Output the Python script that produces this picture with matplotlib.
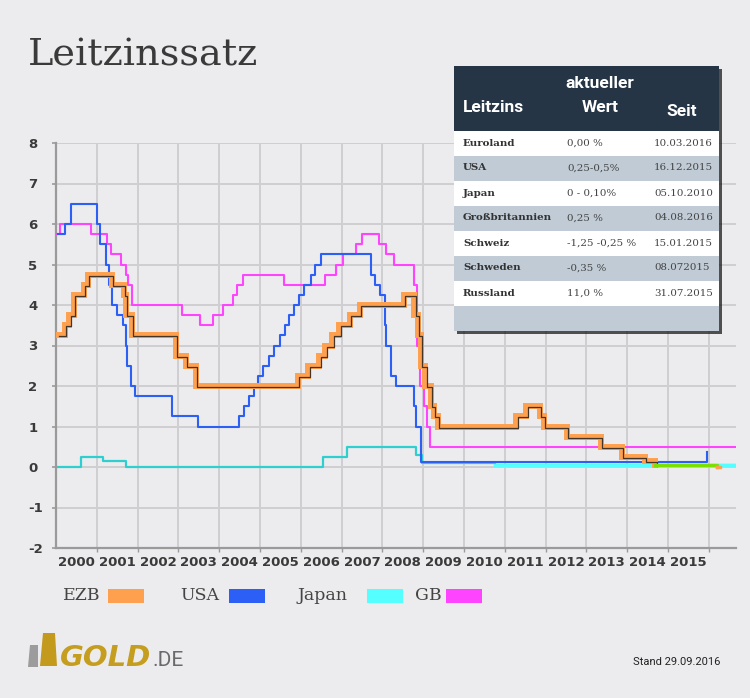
import matplotlib
matplotlib.use("Agg")
import matplotlib.pyplot as plt
import matplotlib.ticker as mticker
import matplotlib.transforms as mtransforms
from matplotlib.patches import Rectangle, Polygon
import numpy as np

# ── Daten (Leitzinsen, Stufenfunktionen) ─────────────────────────
ezb_dates = ["2000-01-20", "2000-03-17", "2000-04-28", "2000-06-09", "2000-09-06",
             "2000-10-11", "2001-05-11", "2001-08-31", "2001-09-18", "2001-11-09",
             "2002-12-06", "2003-03-07", "2003-06-06", "2005-12-06", "2006-03-08",
             "2006-06-15", "2006-08-09", "2006-10-11", "2006-12-13", "2007-03-14",
             "2007-06-13", "2008-07-09", "2008-10-15", "2008-11-12", "2008-12-10",
             "2009-01-21", "2009-03-11", "2009-04-08", "2009-05-13", "2011-04-13",
             "2011-07-13", "2011-11-09", "2011-12-14", "2012-07-11", "2013-05-08",
             "2013-11-13", "2014-06-11", "2014-09-10", "2016-03-16", "2016-04-08"]
ezb_rates = [3.25, 3.5, 3.75, 4.25, 4.5,
             4.75, 4.5, 4.25, 3.75, 3.25,
             2.75, 2.5, 2.0, 2.25, 2.5,
             2.75, 3.0, 3.25, 3.5, 3.75,
             4.0, 4.25, 3.75, 3.25, 2.5,
             2.0, 1.5, 1.25, 1.0, 1.25,
             1.5, 1.25, 1.0, 0.75, 0.5,
             0.25, 0.15, 0.05, 0.0, 0.0]
ezb_green_from, ezb_green_to = "2014-09-10", "2016-03-16"

usa_dates = ["2000-01-20", "2000-03-21", "2000-05-16", "2001-01-03", "2001-01-31",
             "2001-03-20", "2001-04-18", "2001-05-15", "2001-06-27", "2001-08-21",
             "2001-09-17", "2001-10-02", "2001-11-06", "2001-12-11", "2002-11-06",
             "2003-06-25", "2004-06-30", "2004-08-10", "2004-09-21", "2004-11-10",
             "2004-12-14", "2005-02-02", "2005-03-22", "2005-05-03", "2005-06-30",
             "2005-08-09", "2005-09-20", "2005-11-01", "2005-12-13", "2006-01-31",
             "2006-03-28", "2006-05-10", "2006-06-29", "2007-09-18", "2007-10-31",
             "2007-12-11", "2008-01-22", "2008-01-30", "2008-03-18", "2008-04-30",
             "2008-10-08", "2008-10-29", "2008-12-16", "2015-12-16", "2015-12-20"]
usa_rates = [5.75, 6.0, 6.5, 6.0, 5.5,
             5.0, 4.5, 4.0, 3.75, 3.5,
             3.0, 2.5, 2.0, 1.75, 1.25,
             1.0, 1.25, 1.5, 1.75, 2.0,
             2.25, 2.5, 2.75, 3.0, 3.25,
             3.5, 3.75, 4.0, 4.25, 4.5,
             4.75, 5.0, 5.25, 4.75, 4.5,
             4.25, 3.5, 3.0, 2.25, 2.0,
             1.5, 1.0, 0.125, 0.375, 0.375]

japan_dates = ["2000-01-01", "2000-08-11", "2001-02-28", "2001-09-19", "2006-07-14",
               "2007-02-21", "2008-10-31", "2008-12-19", "2010-10-05", "2016-09-01"]
japan_rates = [0.0, 0.25, 0.15, 0.0, 0.25,
               0.5, 0.3, 0.1, 0.05, 0.05]

gb_dates = ["2000-01-13", "2000-02-10", "2000-11-10", "2001-04-05", "2001-05-10",
            "2001-08-02", "2001-09-18", "2001-10-04", "2001-11-08", "2003-02-06",
            "2003-07-10", "2003-11-06", "2004-02-05", "2004-05-06", "2004-06-10",
            "2004-08-05", "2005-08-04", "2006-08-03", "2006-11-09", "2007-01-11",
            "2007-05-10", "2007-07-05", "2007-12-06", "2008-02-07", "2008-04-10",
            "2008-10-08", "2008-11-06", "2008-12-04", "2009-01-08", "2009-02-05",
            "2009-03-05", "2016-09-01"]
gb_rates = [5.75, 6.0, 5.75, 5.5, 5.25,
            5.0, 4.75, 4.5, 4.0, 3.75,
            3.5, 3.75, 4.0, 4.25, 4.5,
            4.75, 4.5, 4.75, 5.0, 5.25,
            5.5, 5.75, 5.5, 5.25, 5.0,
            4.5, 3.0, 2.0, 1.5, 1.0,
            0.5, 0.5]

year_labels = [str(y) for y in range(2000, 2016)]
y_ticks = list(range(-2, 9))

legend_labels = ["EZB", "USA", "Japan", "GB"]

tbl_header = ["Leitzins", "aktueller\nWert", "Seit"]
tbl_names = ["Euroland", "USA", "Japan", "Großbritannien", "Schweiz", "Schweden", "Russland"]
tbl_values = ["0,00 %", "0,25-0,5%", "0 - 0,10%", "0,25 %", "-1,25 -0,25 %", "-0,35 %", "11,0 %"]
tbl_since = ["10.03.2016", "16.12.2015", "05.10.2010", "04.08.2016", "15.01.2015",
             "08.072015", "31.07.2015"]

# ── Farben ──────────────────────────────────────────────────────
BG = "#ececee"
C_EZB = "#ffa04f"
C_USA = "#2b5ff5"
C_JAPAN = "#55ffff"
C_JAPAN_LINE = "#2fcfcf"
C_GB = "#ff44ff"
C_LIME = "#7be000"
NAVY = "#263545"
ROW_GRAY = "#c0cbd5"


def yf(s):
    y, m, d = map(int, s.split("-"))
    return y + (m - 1) / 12 + (d - 1) / 365


def to_xy(dates, rates):
    return np.array([yf(d) for d in dates]), np.array(rates)


fig = plt.figure(figsize=(7.5, 6.98), dpi=100, facecolor=BG)
ax = fig.add_axes([56 / 750, 1 - 548 / 698, 680 / 750, 405 / 698])
ax.set_facecolor(BG)

# Japan, GB, USA, EZB (EZB oben)
jx, jy = to_xy(japan_dates, japan_rates)
ax.step(jx, jy, where="post", color=C_JAPAN_LINE, lw=1.6, zorder=2)
late = jx >= yf("2010-10-05")
ax.step(jx[late], jy[late], where="post", color=C_JAPAN, lw=2.4, zorder=2)

gx, gy = to_xy(gb_dates, gb_rates)
ax.step(gx, gy, where="post", color=C_GB, lw=1.5, zorder=3)

ux, uy = to_xy(usa_dates, usa_rates)
ax.step(ux, uy, where="post", color=C_USA, lw=1.5, zorder=4)

ex, ey = to_xy(ezb_dates, ezb_rates)
g0, g1 = yf(ezb_green_from), yf(ezb_green_to)
main = ex <= g0
tail = ex >= g1
shadow = mtransforms.offset_copy(ax.transData, fig=fig, x=1.3, y=-1.0, units="dots")
ax.step(ex[main], ey[main], where="post", color=C_EZB, lw=4.3, zorder=5,
        solid_joinstyle="miter")
ax.step(ex[main], ey[main], where="post", color="#222222", lw=0.9, zorder=6,
        alpha=0.85, transform=shadow)
gmask = (ex >= g0) & (ex <= g1)
ax.step(ex[gmask], ey[gmask], where="post", color=C_LIME, lw=2.4, zorder=6)
ax.step(ex[tail], ey[tail], where="post", color=C_EZB, lw=2.4, zorder=6)

# Achsen
ax.set_xlim(2000.0, 2016.67)
ax.set_ylim(-2, 8)
ax.set_yticks(y_ticks)
ax.set_yticklabels([str(v) for v in y_ticks])
ax.xaxis.set_major_locator(mticker.FixedLocator(range(2001, 2017)))
ax.xaxis.set_major_formatter(mticker.NullFormatter())
ax.xaxis.set_minor_locator(mticker.FixedLocator([int(y) + 0.5 for y in year_labels]))
ax.xaxis.set_minor_formatter(mticker.FixedFormatter(year_labels))
ax.tick_params(axis="x", which="minor", length=0, pad=6, labelsize=9.5,
               labelcolor="#3a3a3a")
ax.tick_params(axis="x", which="major", length=3, color="#9a9a9a", width=1)
ax.tick_params(axis="y", length=3, color="#9a9a9a", width=1.2, pad=17,
               labelsize=9.5, labelcolor="#3a3a3a")
for lab in ax.get_yticklabels():
    lab.set_horizontalalignment("left")
    lab.set_fontweight("bold")
for lab in ax.get_xticklabels(minor=True):
    lab.set_fontweight("bold")

ax.grid(True, which="major", color="#cfcfd1", lw=1.4, zorder=0)
ax.set_axisbelow(True)
for s in ["top", "right"]:
    ax.spines[s].set_visible(False)
for s in ["left", "bottom"]:
    ax.spines[s].set_color("#9a9a9a")
    ax.spines[s].set_linewidth(1.6)

# ── Overlay in Pixelkoordinaten ─────────────────────────────────
ov = fig.add_axes([0, 0, 1, 1], zorder=10)
ov.set_xlim(0, 750)
ov.set_ylim(698, 0)
ov.axis("off")
ov.patch.set_alpha(0)

ov.text(28, 66, "Leitzinssatz", fontsize=27.5, family="DejaVu Serif",
        color="#3a3a3a", va="baseline", ha="left")

# Tabelle
tx0, tx1 = 454, 719
head_top, head_bot = 66, 130.5
row_h = 25
n_rows = len(tbl_names) + 1
ov.add_patch(Rectangle((tx0 + 3, head_top + 3), tx1 - tx0, head_bot - head_top + n_rows * row_h,
                       facecolor="#1a1a1a", alpha=0.75, lw=0, zorder=1))
ov.add_patch(Rectangle((tx0, head_top), tx1 - tx0, head_bot - head_top,
                       facecolor=NAVY, lw=0, zorder=2))
for i in range(n_rows):
    fc = "white" if i % 2 == 0 and i < len(tbl_names) else ROW_GRAY
    ov.add_patch(Rectangle((tx0, head_bot + i * row_h), tx1 - tx0, row_h,
                           facecolor=fc, lw=0, zorder=2))

hfont = dict(family="Roboto", fontweight="bold", fontsize=12.5, color="white", zorder=3)
ov.text(463, 108, tbl_header[0], ha="left", va="center", **hfont)
ov.text(600, 96, tbl_header[1], ha="center", va="center", linespacing=1.75, **hfont)
ov.text(682, 111, tbl_header[2], ha="center", va="center", **hfont)

for i, (nm, val, since) in enumerate(zip(tbl_names, tbl_values, tbl_since)):
    yc = head_bot + i * row_h + row_h / 2
    ov.text(463, yc, nm, ha="left", va="center", family="DejaVu Serif",
            fontweight="bold", fontsize=7.4, color="#333333", zorder=3)
    ov.text(567, yc, val, ha="left", va="center", family="DejaVu Serif",
            fontsize=7.4, color="#444444", zorder=3)
    ov.text(654, yc, since, ha="left", va="center", family="DejaVu Serif",
            fontsize=7.4, color="#444444", zorder=3)

# Legende
leg_colors = [C_EZB, C_USA, C_JAPAN, C_GB]
leg_text_x = [63, 180, 297, 415]
leg_box_x = [108, 229, 367, 446]
for lab, col, txx, bx in zip(legend_labels, leg_colors, leg_text_x, leg_box_x):
    ov.text(txx, 596, lab, ha="left", va="center", family="DejaVu Serif",
            fontsize=12.5, color="#444444")
    ov.add_patch(Rectangle((bx, 589), 36, 13.5, facecolor=col, lw=0))

# Logo
ov.add_patch(Polygon([[30, 645], [38, 645], [38, 667], [28, 667]],
                     closed=True, facecolor="#9c9c9c", lw=0))
ov.add_patch(Polygon([[43, 633], [55, 633], [57, 666], [40, 666]],
                     closed=True, facecolor="#c49a1c", lw=0))
ov.text(60, 666, "GOLD", ha="left", va="baseline", family="DejaVu Sans",
        fontweight="bold", style="oblique", fontsize=21, color="#c59d1f")
ov.text(152, 666, ".DE", ha="left", va="baseline", family="Roboto",
        fontsize=15, color="#6a6a6a")

ov.text(720, 662, "Stand 29.09.2016", ha="right", va="center", family="Roboto",
        fontsize=8, color="#222222")

fig.savefig("out.png", dpi=100, facecolor=BG)
